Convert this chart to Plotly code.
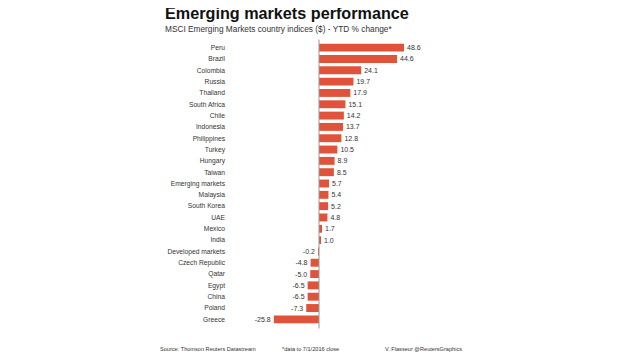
import plotly.graph_objects as go

countries = ["Peru", "Brazil", "Colombia", "Russia", "Thailand", "South Africa", "Chile",
             "Indonesia", "Philippines", "Turkey", "Hungary", "Taiwan", "Emerging markets",
             "Malaysia", "South Korea", "UAE", "Mexico", "India", "Developed markets",
             "Czech Republic", "Qatar", "Egypt", "China", "Poland", "Greece"]
ytd_change = [48.6, 44.6, 24.1, 19.7, 17.9, 15.1, 14.2, 13.7, 12.8, 10.5, 8.9, 8.5, 5.7,
              5.4, 5.2, 4.8, 1.7, 1.0, -0.2, -4.8, -5.0, -6.5, -6.5, -7.3, -25.8]

OFF = 8  # default page body margin
W, H = 620 - OFF, 355 - OFF
PL, PR = 230 - OFF, 440 - OFF
PT, PB = 41.5 - OFF, 325.5 - OFF
PX_PER_UNIT = 1.75
ZERO_PX = 319 - OFF
x_lo = (PL - ZERO_PX) / PX_PER_UNIT
x_hi = (PR - ZERO_PX) / PX_PER_UNIT

def px(xp):
    return (xp - OFF - PL) / (PR - PL)

def py(yp):
    return (PB - (yp - OFF)) / (PB - PT)

FONT = "Liberation Sans, Arial, sans-serif"
BAR = "#E0533A"

fig = go.Figure(go.Bar(
    y=countries, x=ytd_change, orientation="h",
    marker=dict(color=BAR, line=dict(width=0)),
    text=[f"{v:.1f}" for v in ytd_change], textposition="outside",
    textfont=dict(family=FONT, size=7, color="#333333"),
    cliponaxis=False,
))

fig.update_layout(
    width=W, height=H,
    margin=dict(l=PL, r=W - PR, t=PT, b=H - PB, pad=0),
    paper_bgcolor="white", plot_bgcolor="white",
    showlegend=False, bargap=0.3,
    font=dict(family=FONT, color="#333333"),
    xaxis=dict(range=[x_lo, x_hi], showgrid=False, zeroline=False,
               showticklabels=False, ticks="", fixedrange=True),
    yaxis=dict(autorange="reversed", showgrid=False, zeroline=False, ticks="",
               tickfont=dict(family=FONT, size=6.7, color="#333333"),
               ticklabelstandoff=4, showline=False),
    shapes=[dict(type="line", xref="x", yref="paper", x0=0, x1=0,
                 y0=py(329), y1=py(39), line=dict(color="#999999", width=1))],
)

anns = [
    ("Emerging markets performance", 163, 12, 16.2, "#111111", True),
    ("MSCI Emerging Markets country indices ($) - YTD % change*", 163, 28, 8.3, "#333333", False),
    ("Source: Thomson Reuters Datastream", 158, 350, 5.6, "#333333", False),
    ("*data to 7/1/2016 close", 280, 350, 5.6, "#333333", False),
    ("V. Flasseur @ReutersGraphics", 383, 350, 5.6, "#333333", False),
]
for text, x, y, size, color, bold in anns:
    fig.add_annotation(text=f"<b>{text}</b>" if bold else text,
                       xref="paper", yref="paper", x=px(x), y=py(y),
                       xanchor="left", yanchor="middle", showarrow=False,
                       font=dict(family=FONT, size=size, color=color))

fig.write_html("out.html")
